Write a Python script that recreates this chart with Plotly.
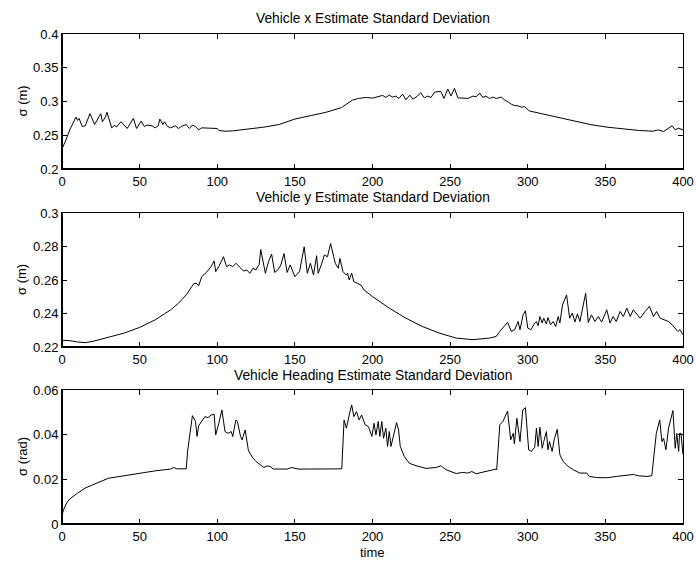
import plotly.graph_objects as go

# Vehicle x position standard deviation (m)
t_x = [0, 2, 5, 9, 10, 11, 13, 15, 18, 21, 25, 26, 28, 29, 32, 34, 35, 38, 42, 46, 48, 51, 53, 55,
       58, 60, 62, 63, 65, 66, 68, 70, 73, 75, 77, 80, 82, 84, 86, 88, 90, 95, 100, 101, 105, 110,
       120, 130, 140, 150, 160, 170, 180, 184, 187, 191, 196, 200, 204, 206.5, 208.6, 210.8, 213,
       215, 217, 219.4, 221.5, 224, 226, 229, 231, 233.4, 235.6, 237.7, 240, 242, 244, 246, 248.5,
       250.6, 252.8, 255, 257, 259, 261.4, 264.7, 266.8, 269, 271, 273, 275.4, 277.6, 279.7, 283,
       285, 287.5, 289.4, 291.6, 293.8, 296, 298, 301, 307.8, 318.5, 329, 340, 351, 361.6, 372,
       381, 384, 387.5, 390.7, 393, 395, 397, 400]
sigma_x = [0.230, 0.240, 0.258, 0.277, 0.272, 0.275, 0.263, 0.264, 0.282, 0.266, 0.282, 0.270,
           0.277, 0.284, 0.261, 0.265, 0.262, 0.270, 0.260, 0.275, 0.260, 0.271, 0.263, 0.265,
           0.264, 0.261, 0.264, 0.274, 0.266, 0.270, 0.263, 0.261, 0.264, 0.260, 0.263, 0.266,
           0.260, 0.265, 0.263, 0.258, 0.261, 0.261, 0.260, 0.257, 0.256, 0.2565, 0.259, 0.262,
           0.266, 0.274, 0.279, 0.284, 0.291, 0.2975, 0.302, 0.3045, 0.306, 0.305, 0.3075, 0.309,
           0.306, 0.3095, 0.3065, 0.308, 0.3045, 0.311, 0.3025, 0.3095, 0.3035, 0.308, 0.313,
           0.3055, 0.308, 0.306, 0.314, 0.315, 0.315, 0.3045, 0.3185, 0.308, 0.3195, 0.3055,
           0.3055, 0.3045, 0.3045, 0.308, 0.307, 0.3125, 0.306, 0.308, 0.3045, 0.3065, 0.3045,
           0.3065, 0.3025, 0.299, 0.296, 0.294, 0.2935, 0.2915, 0.2925, 0.286, 0.2825, 0.277,
           0.271, 0.266, 0.262, 0.259, 0.257, 0.256, 0.258, 0.2555, 0.2605, 0.264, 0.258, 0.2605,
           0.258]

# Vehicle y position standard deviation (m)
t_y = [0, 5, 10, 15, 20, 30, 40, 50, 60, 70, 75, 80, 83, 85, 87, 88, 90, 93, 96, 98, 99, 101,
       104, 106, 108, 110, 112, 115, 117, 119, 121, 123, 125, 126, 127, 128, 130, 131, 133, 135,
       137, 139, 141, 143, 145, 147, 150, 153, 156, 158, 160, 162, 164, 165, 167, 169, 171, 173,
       175, 176, 178, 179, 181, 183, 184, 185, 186.6, 188, 190.3, 192.5, 194.6, 200, 210.8,
       221.5, 232, 243, 254, 264.7, 275.4, 279.7, 282, 285, 287, 289.4, 291.6, 293.8, 295, 297,
       298.5, 300, 302, 304.5, 305.6, 306.7, 307.8, 309.3, 310.3, 312, 313, 314.7, 316.4, 318,
       319.6, 320.7, 322.4, 325, 327, 328.7, 330.4, 332, 333.6, 337.3, 339, 341, 343.3, 345.5,
       347.6, 350.9, 353, 355, 357, 359.5, 361.6, 363.8, 366, 368, 370.7, 372.4, 375.6, 378.4,
       381, 383, 385.3, 388.4, 390.7, 393, 395, 396.6, 398, 400]
sigma_y = [0.2240, 0.2238, 0.2230, 0.2226, 0.2234, 0.2257, 0.2283, 0.2317, 0.2362, 0.2422,
           0.2461, 0.2511, 0.2550, 0.2580, 0.2578, 0.2565, 0.2620, 0.2645, 0.2680, 0.2713,
           0.2650, 0.2680, 0.2739, 0.2680, 0.2690, 0.2680, 0.2700, 0.2673, 0.2653, 0.2660,
           0.2640, 0.2670, 0.2660, 0.2680, 0.2690, 0.2782, 0.2680, 0.2640, 0.2709, 0.2755,
           0.2645, 0.2660, 0.2690, 0.2758, 0.2645, 0.2690, 0.2620, 0.2650, 0.2798, 0.2640,
           0.2700, 0.2630, 0.2745, 0.2640, 0.2690, 0.2749, 0.2739, 0.2818, 0.2739, 0.2700,
           0.2670, 0.2729, 0.2650, 0.2630, 0.2640, 0.2600, 0.2640, 0.2590, 0.2580, 0.2570,
           0.2540, 0.2501, 0.2432, 0.2372, 0.2323, 0.2283, 0.2253, 0.2244, 0.2253, 0.2263,
           0.2293, 0.2323, 0.2347, 0.2293, 0.2303, 0.2352, 0.2303, 0.2392, 0.2416, 0.2313,
           0.2303, 0.2343, 0.2352, 0.2327, 0.2382, 0.2343, 0.2372, 0.2337, 0.2376, 0.2333,
           0.2352, 0.2323, 0.2382, 0.2343, 0.2451, 0.2511, 0.2372, 0.2402, 0.2349, 0.2398,
           0.2352, 0.2521, 0.2347, 0.2392, 0.2352, 0.2382, 0.2349, 0.2422, 0.2343, 0.2382,
           0.2352, 0.2412, 0.2382, 0.2432, 0.2382, 0.2422, 0.2392, 0.2372, 0.2412, 0.2442,
           0.2382, 0.2412, 0.2372, 0.2362, 0.2352, 0.2333, 0.2313, 0.2293, 0.2303, 0.2273]

# Vehicle heading standard deviation (rad)
t_h = [0, 1, 3, 5, 10, 15, 20, 25, 30, 40, 50, 60, 70, 72, 74, 78, 80, 81, 83, 84, 86, 87, 88,
       90, 92, 94, 96, 98, 99, 101, 103, 105, 107, 109, 110, 112, 113, 115, 116, 118, 119, 120,
       121, 123, 125, 128, 130, 132, 134, 136, 140, 145, 148, 152, 160, 170, 175, 178, 180.2,
       181.7, 183.2, 185, 186.6, 188, 189.7, 191.4, 193, 195.3, 197.4, 199.6, 201, 202.2, 203.7,
       204.7, 206, 207.1, 208.6, 209.7, 210.8, 211.9, 213.6, 215.5, 216.8, 217.9, 220.5, 223.7,
       228, 234.5, 241, 244, 247.4, 253.9, 258, 261.4, 264, 266.8, 271, 275.4, 279.7, 280, 282,
       284, 287, 289, 290.7, 291.4, 293, 295, 296.8, 298.5, 300.6, 302.4, 304.5, 305.6, 306.7,
       307.8, 309.3, 310.3, 312, 313, 314, 315.7, 317, 319, 320.7, 322.8, 326, 329.3, 333.6,
       338, 339.6, 344.4, 350.9, 357.3, 363.8, 368, 371.3, 376.7, 379.9, 381, 382.8, 385, 386.4,
       387.5, 389, 390.7, 393.5, 395, 396, 397.2, 397.8, 398.7, 399.4, 400]
sigma_h = [0.0039, 0.0064, 0.0094, 0.0112, 0.0138, 0.0161, 0.0176, 0.0191, 0.0205, 0.0216,
           0.0228, 0.0238, 0.0246, 0.0253, 0.0247, 0.0249, 0.0247, 0.0332, 0.0451, 0.0485,
           0.0459, 0.0392, 0.0439, 0.0459, 0.0481, 0.0476, 0.0488, 0.0491, 0.0399, 0.0451,
           0.0511, 0.0414, 0.0406, 0.0414, 0.0392, 0.0466, 0.0459, 0.0392, 0.0377, 0.0421,
           0.0369, 0.0332, 0.0317, 0.0295, 0.0280, 0.0265, 0.0253, 0.0260, 0.0258, 0.0246,
           0.0246, 0.0246, 0.0253, 0.0246, 0.0246, 0.0247, 0.0246, 0.0249, 0.0247, 0.0466,
           0.0429, 0.0488, 0.0533, 0.0481, 0.0503, 0.0466, 0.0488, 0.0444, 0.0436, 0.0392,
           0.0451, 0.0399, 0.0459, 0.0392, 0.0459, 0.0384, 0.0429, 0.0347, 0.0414, 0.0347,
           0.0399, 0.0454, 0.0421, 0.0347, 0.0302, 0.0272, 0.0261, 0.0249, 0.0253, 0.0261,
           0.0243, 0.0226, 0.0231, 0.0228, 0.0235, 0.0225, 0.0232, 0.0240, 0.0246, 0.0243,
           0.0444, 0.0459, 0.0506, 0.0377, 0.0406, 0.0359, 0.0473, 0.0369, 0.0511, 0.0521,
           0.0332, 0.0325, 0.0344, 0.0429, 0.0347, 0.0433, 0.0339, 0.0369, 0.0414, 0.0332,
           0.0369, 0.0325, 0.0377, 0.0424, 0.0310, 0.0280, 0.0258, 0.0243, 0.0228, 0.0228,
           0.0213, 0.0208, 0.0207, 0.0213, 0.0220, 0.0222, 0.0216, 0.0213, 0.0216, 0.0302,
           0.0406, 0.0466, 0.0369, 0.0384, 0.0332, 0.0429, 0.0508, 0.0339, 0.0406, 0.0325,
           0.0406, 0.0406, 0.0332, 0.0310]

titles = ["Vehicle x Estimate Standard Deviation",
          "Vehicle y Estimate Standard Deviation",
          "Vehicle Heading Estimate Standard Deviation"]
ylabels = ["σ (m)", "σ (m)", "σ (rad)"]
xlabel = "time"

y_ranges = [[0.2, 0.4], [0.22, 0.3], [0, 0.06]]
y_ticks = [[0.2, 0.25, 0.3, 0.35, 0.4],
           [0.22, 0.24, 0.26, 0.28, 0.3],
           [0, 0.02, 0.04, 0.06]]
y_ticktext = [["0.2", "0.25", "0.3", "0.35", "0.4"],
              ["0.22", "0.24", "0.26", "0.28", "0.3"],
              ["0", "0.02", "0.04", "0.06"]]
x_ticks = [0, 50, 100, 150, 200, 250, 300, 350, 400]

W, H = 696, 561
x_dom = [62 / W, 683 / W]
y_doms = [[1 - 169 / H, 1 - 34 / H],
          [1 - 347 / H, 1 - 213 / H],
          [1 - 524 / H, 1 - 390 / H]]

FONT = "Liberation Sans, Arial, Helvetica, sans-serif"

fig = go.Figure()
series = [(t_x, sigma_x), (t_y, sigma_y), (t_h, sigma_h)]
annotations = []
shapes = []
for i, (tt, vv) in enumerate(series):
    n = "" if i == 0 else str(i + 1)
    fig.add_trace(go.Scatter(x=tt, y=vv, mode="lines",
                             line=dict(color="black", width=1),
                             xaxis="x" + n, yaxis="y" + n, showlegend=False,
                             hoverinfo="skip"))
    axis_common = dict(showgrid=False, zeroline=False, showline=True, linecolor="black",
                       linewidth=1, mirror="ticks", ticks="inside", ticklen=5,
                       tickcolor="black", tickwidth=1, automargin=False,
                       tickfont=dict(family=FONT, size=13, color="black"))
    fig.layout["xaxis" + n] = dict(domain=x_dom, range=[0, 400], tickvals=x_ticks,
                                   anchor="y" + n, **axis_common)
    fig.layout["yaxis" + n] = dict(domain=y_doms[i], range=y_ranges[i],
                                   tickvals=y_ticks[i], ticktext=y_ticktext[i],
                                   anchor="x" + n, **axis_common)
    # heavier left and bottom frame edges
    shapes.append(dict(type="line", xref="x" + n + " domain", yref="y" + n + " domain",
                       x0=0, x1=1, y0=0, y1=0, line=dict(color="black", width=2)))
    shapes.append(dict(type="line", xref="x" + n + " domain", yref="y" + n + " domain",
                       x0=0, x1=0, y0=0, y1=1, line=dict(color="black", width=2)))
    annotations.append(dict(text=titles[i], x=(x_dom[0] + x_dom[1]) / 2, y=y_doms[i][1],
                            xref="paper", yref="paper", xanchor="center", yanchor="middle",
                            yshift=15, showarrow=False,
                            font=dict(family=FONT, size=13.8, color="black")))
    annotations.append(dict(text=ylabels[i], x=22 / W, y=sum(y_doms[i]) / 2,
                            xref="paper", yref="paper", xanchor="center", yanchor="middle",
                            textangle=-90, showarrow=False,
                            font=dict(family=FONT, size=13, color="black")))

annotations.append(dict(text=xlabel, x=(x_dom[0] + x_dom[1]) / 2, y=1 - 552 / H,
                        xref="paper", yref="paper", xanchor="center", yanchor="middle",
                        showarrow=False, font=dict(family=FONT, size=13, color="black")))

fig.update_layout(width=W, height=H,
                  margin=dict(l=0, r=0, t=0, b=0, pad=0, autoexpand=False),
                  paper_bgcolor="white", plot_bgcolor="white",
                  annotations=annotations, shapes=shapes,
                  font=dict(family=FONT, size=13, color="black"))

fig.write_html("out.html")
